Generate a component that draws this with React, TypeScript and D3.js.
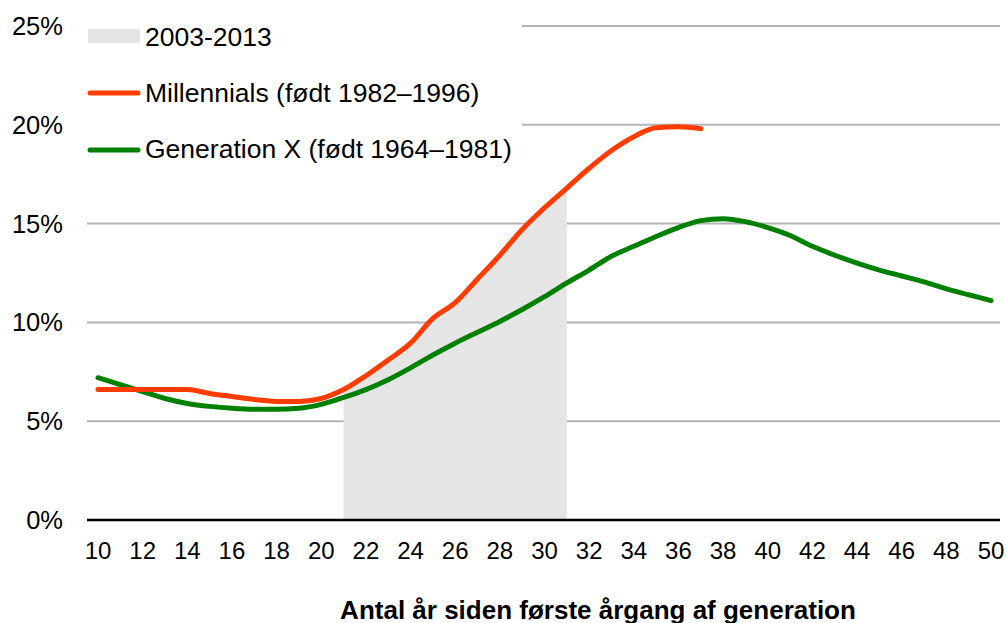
import React from 'react';
import * as d3 from 'd3';

// years since first cohort of the generation
const ages = [10, 11, 12, 13, 14, 15, 16, 17, 18, 19, 20, 21, 22, 23, 24, 25, 26, 27, 28, 29, 30,
  31, 32, 33, 34, 35, 36, 37, 38, 39, 40, 41, 42, 43, 44, 45, 46, 47, 48, 49, 50];

const millennials = [6.6, 6.6, 6.6, 6.6, 6.6, 6.4, 6.25, 6.1, 6.0, 6.0, 6.15, 6.6, 7.3, 8.1, 8.95,
  10.2, 11.0, 12.2, 13.4, 14.7, 15.8, 16.8, 17.8, 18.7, 19.4, 19.85, 19.9, 19.8];

const genX = [7.2, 6.85, 6.5, 6.15, 5.9, 5.75, 5.65, 5.6, 5.6, 5.65, 5.85, 6.2, 6.6, 7.1, 7.7, 8.35,
  8.95, 9.5, 10.05, 10.65, 11.3, 12.0, 12.65, 13.35, 13.85, 14.35, 14.8, 15.15, 15.25, 15.1, 14.8,
  14.4, 13.85, 13.4, 13.0, 12.65, 12.35, 12.05, 11.7, 11.4, 11.1];

const shadeRange = [21, 31];
const xTicks = [10, 12, 14, 16, 18, 20, 22, 24, 26, 28, 30, 32, 34, 36, 38, 40, 42, 44, 46, 48, 50];
const yTicks = [0, 5, 10, 15, 20, 25];

const legendLabels = ['2003-2013', 'Millennials (født 1982–1996)', 'Generation X (født 1964–1981)'];
const xTitle = 'Antal år siden første årgang af generation';

const W = 1007;
const H = 623;
const font = '"Liberation Sans", Arial, sans-serif';
const red = '#ff3c00';
const green = '#008000';

export default function App() {
  const x = d3.scaleLinear().domain([10, 50]).range([98, 991]);
  const y = d3.scaleLinear().domain([0, 25]).range([520, 26]);

  const mData = millennials.map((v, i) => ({ a: ages[i], v }));
  const gData = genX.map((v, i) => ({ a: ages[i], v }));
  const shadeData = mData.filter(d => d.a >= shadeRange[0] && d.a <= shadeRange[1]);

  const curve = d3.curveMonotoneX;
  const lineGen = d3.line<{ a: number; v: number }>()
    .x(d => x(d.a))
    .y(d => y(d.v))
    .curve(curve);
  const areaGen = d3.area<{ a: number; v: number }>()
    .x(d => x(d.a))
    .y0(y(0))
    .y1(d => y(d.v))
    .curve(curve);

  return (
    <svg width={W} height={H} style={{ position: 'absolute', left: 0, top: 0, background: '#fff' }}
      fontFamily={font}>
      {/* grid */}
      {yTicks.filter(t => t > 0).map(t => (
        <line key={t} x1={87} x2={1000} y1={y(t)} y2={y(t)} stroke="#b3b3b3" strokeWidth={2} />
      ))}

      {/* 2003-2013 shading */}
      <path d={areaGen(shadeData) || ''} fill="#e5e5e5" />

      {/* baseline */}
      <line x1={87} x2={1000} y1={y(0)} y2={y(0)} stroke="#000" strokeWidth={2.5} />

      {/* series */}
      <path d={lineGen(gData) || ''} fill="none" stroke={green} strokeWidth={5}
        strokeLinecap="round" strokeLinejoin="round" />
      <path d={lineGen(mData) || ''} fill="none" stroke={red} strokeWidth={5}
        strokeLinecap="round" strokeLinejoin="round" />

      {/* y labels */}
      {yTicks.map(t => (
        <text key={t} x={63} y={y(t) + 9} textAnchor="end" fontSize={25.5} fill="#000">
          {t}%
        </text>
      ))}

      {/* x labels */}
      {xTicks.map(t => (
        <text key={t} x={x(t)} y={559} textAnchor="middle" fontSize={24} fill="#000">
          {t}
        </text>
      ))}

      <text x={598} y={619} textAnchor="middle" fontSize={26} fontWeight="bold" fill="#000">
        {xTitle}
      </text>

      {/* legend */}
      <rect x={80} y={12} width={442} height={165} fill="#fff" />
      <rect x={88} y={29} width={52} height={14} fill="#e5e5e5" />
      <text x={145} y={46} fontSize={26.5} fill="#000">{legendLabels[0]}</text>
      <line x1={90} x2={138} y1={93} y2={93} stroke={red} strokeWidth={5} strokeLinecap="round" />
      <text x={145} y={102} fontSize={26.5} fill="#000">{legendLabels[1]}</text>
      <line x1={90} x2={138} y1={150} y2={150} stroke={green} strokeWidth={5} strokeLinecap="round" />
      <text x={145} y={158} fontSize={26.5} fill="#000">{legendLabels[2]}</text>
    </svg>
  );
}
